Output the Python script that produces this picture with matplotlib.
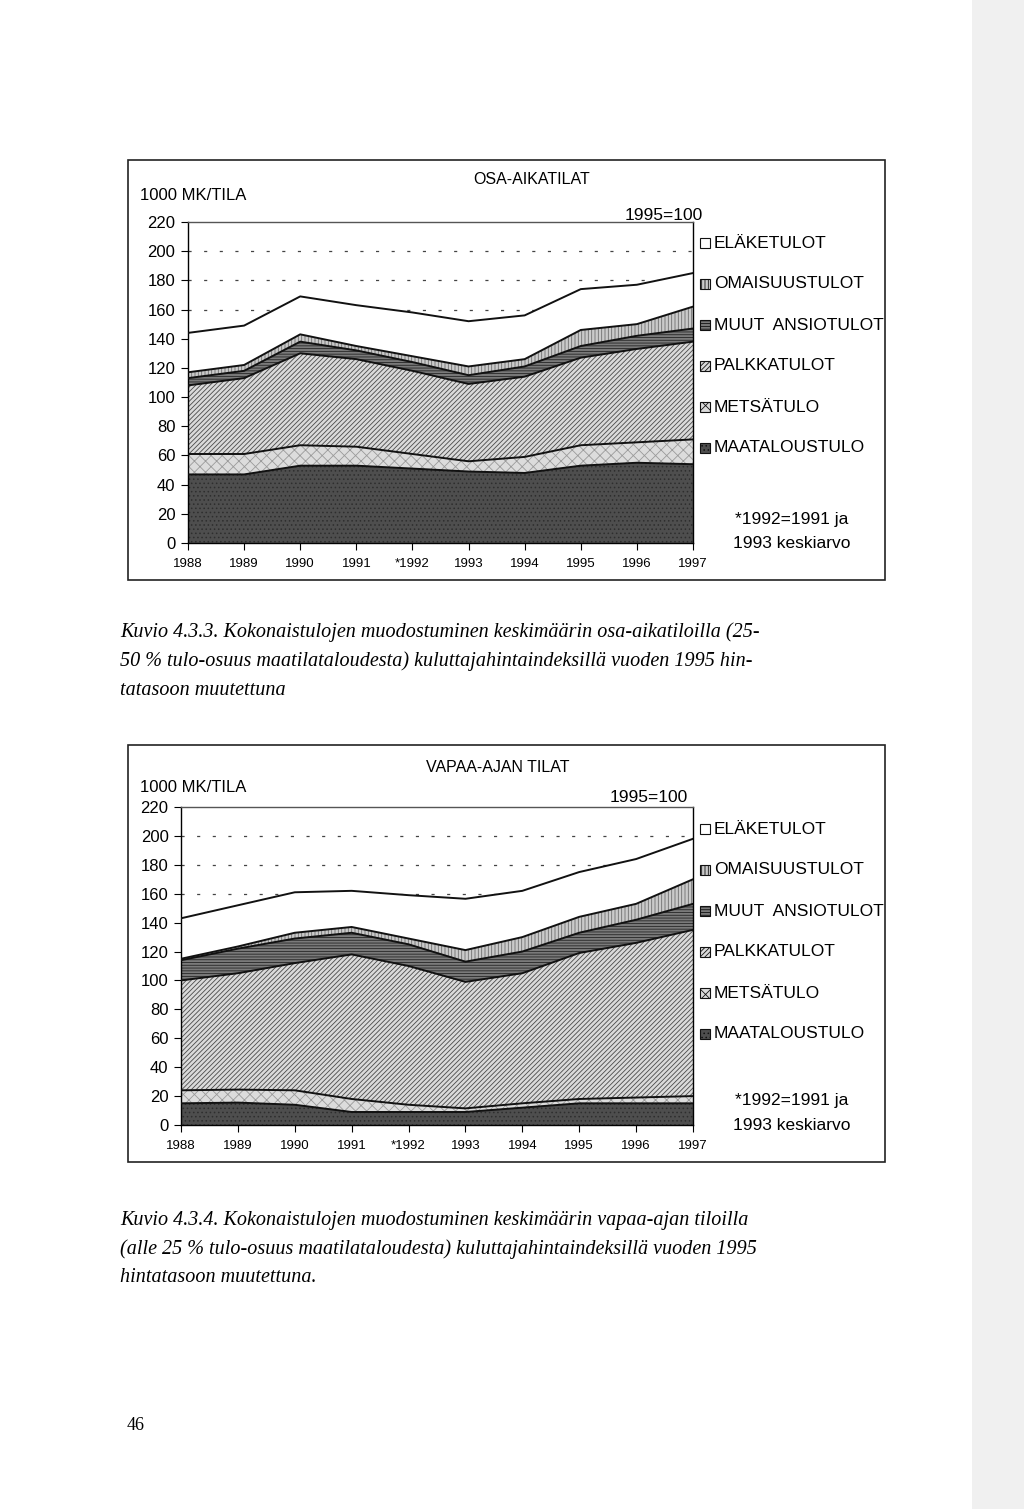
"""
Two stacked-area income charts (osa-aikatilat / vapaa-ajan tilat) on a scanned
report page, with captions underneath.
Output: out.png (1024 x 1509)
"""
import matplotlib
matplotlib.use("Agg")
import matplotlib.pyplot as plt
from matplotlib.patches import Rectangle

plt.rcParams.update({"font.family": ["Liberation Sans", "DejaVu Sans"],
                     "hatch.linewidth": 0.6})

# ── data (1000 mk / tila, 1995 price level) ─────────────────────────────────
years = ["1988", "1989", "1990", "1991", "*1992", "1993",
         "1994", "1995", "1996", "1997"]
series = ["MAATALOUSTULO", "METSÄTULO", "PALKKATULOT",
          "MUUT  ANSIOTULOT", "OMAISUUSTULOT", "ELÄKETULOT"]

osa_maatalous = [47, 47, 53, 53, 51, 49, 48, 53, 55, 54]
osa_metsa     = [14, 14, 14, 13, 10, 7, 11, 14, 14, 17]
osa_palkka    = [47, 52, 63, 60, 57, 53, 55, 60, 64, 67]
osa_muut      = [5, 5, 8, 6, 6, 6, 7, 8, 9, 9]
osa_omaisuus  = [4, 4, 5, 3, 4, 6, 5, 11, 8, 15]
osa_elake     = [27, 27, 26, 28, 30, 31, 30, 28, 27, 23]

vap_maatalous = [15, 15.5, 14, 9, 9, 9, 12, 15, 15, 15]
vap_metsa     = [9, 9, 10, 9, 5, 2.5, 3, 3, 4, 5]
vap_palkka    = [76, 80.5, 88, 100, 96, 87.5, 90, 101, 107, 115]
vap_muut      = [14, 17, 17, 15, 15, 14, 15, 14, 16, 18]
vap_omaisuus  = [1, 1.5, 4, 4, 4, 8, 10, 11, 11, 17]
vap_elake     = [28, 28.5, 28, 25, 30, 35.5, 32, 31, 31, 28]

# fill, hatch, hatch colour per layer (bottom -> top)
STYLES = [("#4e4e4e", "....", "#2e2e2e"),
          ("#dcdcdc", "xxx",  "#9a9a9a"),
          ("#dadada", "///////", "#4a4a4a"),
          ("#7a7a7a", "------", "#262626"),
          ("#cacaca", "|||||", "#6e6e6e"),
          ("#ffffff", "",     "#000000")]

W, H = 1024, 1509
fig = plt.figure(figsize=(W / 100, H / 100), dpi=100)
fig.patch.set_facecolor("white")
fig.add_artist(Rectangle((972 / W, 0), 1, 1, transform=fig.transFigure,
                         facecolor="#f0f0f0", edgecolor="none", zorder=-5))


def fx(px):
    return px / W


def fy(py):
    return 1 - py / H


def chart(frame, axbox, title, title_xy, unit_xy, base_xy, leg_x, leg_y0, note_y,
          layers):
    x0, y0, x1, y1 = frame
    fig.add_artist(Rectangle((fx(x0), fy(y1)), fx(x1 - x0), (y1 - y0) / H,
                             transform=fig.transFigure, facecolor="none",
                             edgecolor="#222222", lw=1.2))
    l, t, r, b = axbox
    ax = fig.add_axes([fx(l), fy(b), fx(r - l), (b - t) / H])
    xs = list(range(len(years)))
    polys = ax.stackplot(xs, *layers, colors=[s[0] for s in STYLES], zorder=2)
    for p, (fc, hatch, hc) in zip(polys, STYLES):
        p.set_hatch(hatch)
        p.set_edgecolor(hc)
        p.set_linewidth(0)
    cum = [0] * len(xs)
    for lay in layers:
        cum = [c + v for c, v in zip(cum, lay)]
        ax.plot(xs, cum, color="#111111", lw=1.4, zorder=3)
    for gy in range(20, 220, 20):
        ax.axhline(gy, color="#444444", lw=0.9, ls=(0, (2.5, 10)), zorder=1)
    ax.set_xlim(0, len(xs) - 1)
    ax.set_ylim(0, 220)
    ax.set_yticks(range(0, 221, 20))
    ax.set_xticks(xs)
    ax.set_xticklabels(years, fontsize=9.5,
                       family=["Liberation Sans Narrow", "Liberation Sans"])
    ax.tick_params(axis="y", labelsize=12, direction="out", length=5, pad=4)
    ax.tick_params(axis="x", direction="out", length=5, pad=6)
    for s in ax.spines.values():
        s.set_linewidth(1.0)
    ax.spines["top"].set_color("#555555")

    fig.text(fx(title_xy[0]), fy(title_xy[1]), title, ha="center", va="center",
             fontsize=11.5)
    fig.text(fx(unit_xy[0]), fy(unit_xy[1]), "1000 MK/TILA", ha="left",
             va="center", fontsize=12)
    fig.text(fx(base_xy[0]), fy(base_xy[1]), "1995=100", ha="right",
             va="center", fontsize=12.5)

    # legend: top entry first
    for i, (name, (fc, hatch, hc)) in enumerate(zip(series[::-1], STYLES[::-1])):
        yy = leg_y0 + i * 41
        fig.add_artist(Rectangle((fx(leg_x), fy(yy + 5)), fx(10), 10 / H,
                                 transform=fig.transFigure, facecolor=fc,
                                 hatch=hatch, edgecolor="#111111", lw=0.8))
        fig.text(fx(leg_x + 14), fy(yy), name, ha="left", va="center",
                 fontsize=12.5)
    fig.text(fx(792), fy(note_y), "*1992=1991 ja", ha="center", va="center",
             fontsize=12.5)
    fig.text(fx(792), fy(note_y + 25), "1993 keskiarvo", ha="center",
             va="center", fontsize=12.5)
    return ax


chart((128, 160, 885, 580), (188, 222, 693, 543), "OSA-AIKATILAT", (532, 180),
      (140, 196), (703, 215), 700, 243, 519,
      [osa_maatalous, osa_metsa, osa_palkka, osa_muut, osa_omaisuus, osa_elake])

chart((128, 745, 885, 1162), (181, 807, 693, 1125), "VAPAA-AJAN TILAT", (498, 768),
      (140, 787), (688, 797), 700, 829, 1101,
      [vap_maatalous, vap_metsa, vap_palkka, vap_muut, vap_omaisuus, vap_elake])

# ── captions ────────────────────────────────────────────────────────────────
cap = dict(ha="left", va="center", fontsize=14.5, style="italic",
           family=["Liberation Serif", "DejaVu Serif"])
cap1 = ["Kuvio 4.3.3. Kokonaistulojen muodostuminen keskimäärin osa-aikatiloilla (25-",
        "50 % tulo-osuus maatilataloudesta) kuluttajahintaindeksillä vuoden 1995 hin-",
        "tatasoon muutettuna"]
cap2 = ["Kuvio 4.3.4. Kokonaistulojen muodostuminen keskimäärin vapaa-ajan tiloilla",
        "(alle 25 % tulo-osuus maatilataloudesta) kuluttajahintaindeksillä vuoden 1995",
        "hintatasoon muutettuna."]
for i, line in enumerate(cap1):
    fig.text(fx(120), fy(632 + i * 29), line, **cap)
for i, line in enumerate(cap2):
    fig.text(fx(120), fy(1220 + i * 29), line, **cap)

fig.text(fx(127), fy(1425), "46", ha="left", va="center", fontsize=13,
         family=["Liberation Serif", "DejaVu Serif"])

fig.savefig("out.png", dpi=100)
plt.close(fig)
